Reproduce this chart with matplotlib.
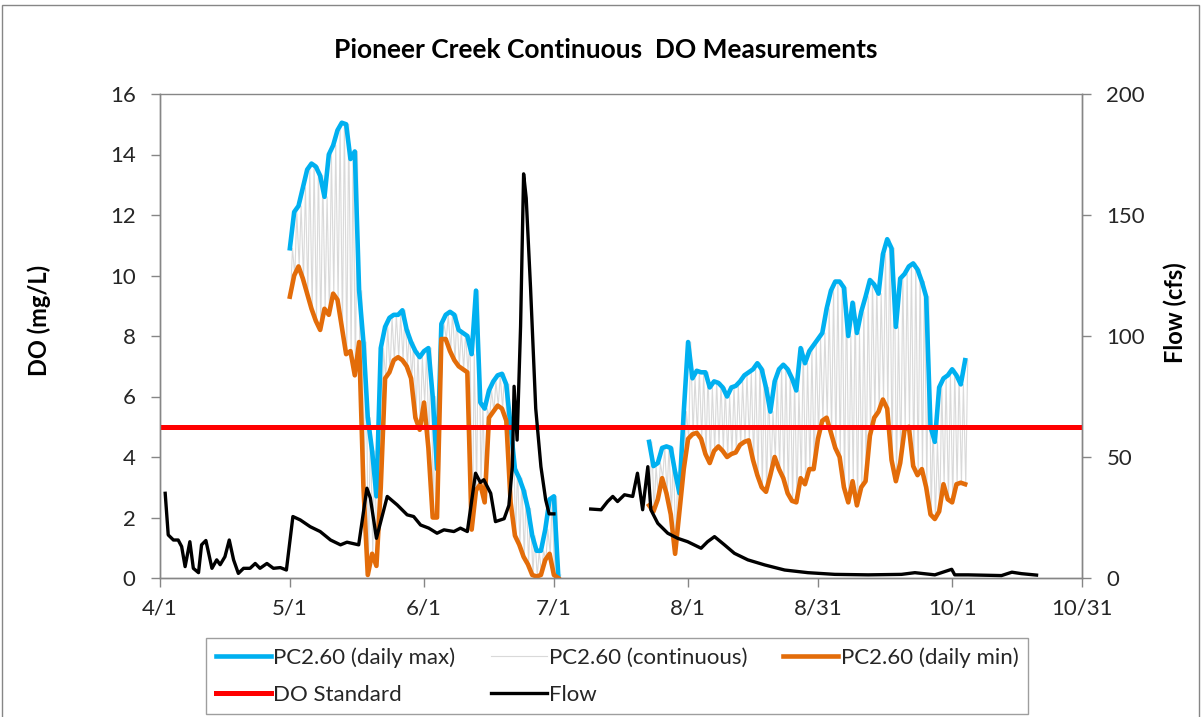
import numpy as np
import matplotlib.pyplot as plt
from matplotlib.patches import Rectangle

'''Pioneer Creek continuous DO with daily max/min and flow on a second axis.
x is days after 4/1'''

##########Data#################################
tick_days = [0, 30, 61, 91, 122, 152, 183, 213]
tick_labels = ["4/1", "5/1", "6/1", "7/1", "8/1", "8/31", "10/1", "10/31"]

#daily max / min DO (mg/L), first run starts 5/1 (day 30)
start1 = 30
max1 = [10.9, 12.1, 12.3, 12.9, 13.5, 13.7, 13.6, 13.3, 12.6, 14.0,
        14.3, 14.8, 15.05, 15.0, 13.85, 14.1, 9.5, 7.8, 5.3, 4.2,
        2.7, 7.6, 8.3, 8.6, 8.7, 8.7, 8.85, 8.2, 7.8, 7.5,
        7.3, 7.5, 7.6, 6.0, 3.6, 8.4, 8.7, 8.8, 8.7, 8.2,
        8.1, 8.0, 7.4, 9.5, 5.8, 5.6, 6.2, 6.5, 6.7, 6.75,
        6.4, 5.0, 3.6, 3.3, 2.9, 2.3, 1.4, 0.9, 0.9, 1.6,
        2.6, 2.7, 0.1]
min1 = [9.3, 10.0, 10.3, 9.9, 9.4, 8.9, 8.5, 8.2, 8.9, 8.7,
        9.4, 9.2, 8.3, 7.4, 7.5, 6.7, 7.8, 3.0, 0.1, 0.8,
        0.4, 3.0, 6.6, 6.8, 7.2, 7.3, 7.2, 7.0, 6.6, 5.3,
        4.9, 5.8, 4.3, 2.0, 2.0, 7.9, 7.9, 7.5, 7.2, 7.0,
        6.9, 6.8, 1.6, 2.9, 3.1, 2.5, 5.3, 5.5, 5.7, 5.6,
        5.2, 2.5, 1.4, 1.1, 0.7, 0.45, 0.1, 0.05, 0.1, 0.6,
        0.8, 0.1, 0.0]

#second run starts late July (day 113)
start2 = 113
max2 = [4.5, 3.7, 3.8, 4.3, 4.35, 4.3, 3.5, 2.8, 5.5, 7.8,
        6.6, 6.85, 6.8, 6.8, 6.3, 6.5, 6.45, 6.3, 6.0, 6.3,
        6.35, 6.5, 6.7, 6.8, 6.9, 7.1, 6.9, 6.3, 5.5, 6.5,
        6.9, 7.05, 6.9, 6.6, 6.2, 7.6, 7.1, 7.5, 7.7, 7.9,
        8.1, 8.9, 9.5, 9.8, 9.8, 9.6, 8.0, 9.1, 8.1, 8.8,
        9.3, 9.85, 9.7, 9.4, 10.7, 11.2, 10.9, 8.3, 9.9, 10.05,
        10.3, 10.4, 10.2, 9.8, 9.3, 5.0, 4.5, 6.3, 6.6, 6.7,
        6.9, 6.7, 6.4, 7.2]
min2 = [2.4, 2.2, 2.6, 3.3, 2.8, 2.1, 0.8, 2.2, 3.6, 4.6,
        4.75, 4.8, 4.6, 4.1, 3.8, 4.2, 4.35, 4.2, 4.0, 4.1,
        4.15, 4.4, 4.5, 4.55, 3.9, 3.4, 3.0, 2.85, 3.4, 4.0,
        3.6, 3.3, 2.8, 2.55, 2.5, 3.3, 3.1, 3.6, 3.6, 4.6,
        5.2, 5.3, 4.8, 4.3, 4.0, 3.0, 2.5, 3.2, 2.4, 3.0,
        3.2, 4.7, 5.3, 5.5, 5.9, 5.6, 3.9, 3.2, 3.8, 4.9,
        5.0, 3.7, 3.4, 3.6, 3.0, 2.1, 1.95, 2.2, 3.1, 2.6,
        2.5, 3.1, 3.15, 3.1]

do_standard = 5.0

#flow (cfs), nan = gap in record
flow_day = [1.2, 1.9, 3.1, 4.2, 5.0, 5.8, 6.9, 7.7, 8.9, 9.6,
            10.6, 12.0, 13.1, 13.9, 15.0, 16.0, 17.0, 18.1, 19.3, 20.8,
            22.0, 23.1, 24.7, 26.2, 27.8, 29.2, 30.7, 32.4, 34.7, 37.0,
            39.4, 41.7, 43.2, 45.9, 47.8, 48.6, 50.0, 52.5, 54.8, 57.1,
            58.6, 60.2, 62.1, 64.0, 65.6, 67.9, 69.4, 71.0, 72.9, 74.0,
            74.8, 76.4, 77.5, 79.5, 80.6, 81.4, 81.8, 82.5, 83.3, 84.0,
            84.6, 85.6, 86.8, 88.0, 89.1, 89.9, 91.0, 95.0,
            99.5, 101.9, 103.4, 104.6, 105.7, 107.3, 109.2, 110.3, 111.5, 112.7,
            113.4, 115.0, 117.3, 119.6, 121.9, 125.0, 126.5, 128.1, 130.4, 132.7,
            135.8, 139.7, 144.3, 149.7, 155.9, 163.6, 171.3, 174.4, 179.0, 182.9,
            183.6, 186.7, 194.4, 196.8, 199.0, 202.5]
flow_cfs = [35, 17.8, 15.7, 15.7, 13, 4.7, 15, 4, 2.2, 13.7,
            15.5, 4, 7.5, 5.5, 8.8, 15.7, 7.5, 1.9, 4, 4,
            6, 4, 6, 4, 4.3, 3.3, 25.4, 24, 21.2, 19.2,
            15.7, 13.7, 14.8, 13.7, 37.1, 33, 16.4, 33.7, 30.2, 26.1,
            25.4, 21.9, 20.6, 18.5, 19.9, 19.2, 20.6, 19.2, 43.3, 39.5,
            40.6, 35, 23.3, 24.5, 30, 46, 79.2, 57, 104, 167,
            157, 120, 70, 46, 32.3, 26.5, 26.5, np.nan,
            28.5, 28.2, 31.6, 33.7, 31.6, 34.4, 33.7, 43.3, 28.2, 46,
            28.2, 22.6, 18.5, 16.4, 15, 12.3, 15, 17.1, 13.7, 10.2,
            7.5, 5.4, 3.3, 2.2, 1.5, 1.3, 1.5, 2.2, 1.3, 3.6,
            1.3, 1.3, 1.0, 2.4, 1.8, 1.2]
#####################################################

def join(a, b):
    return np.concatenate([np.asarray(a, float), [np.nan], np.asarray(b, float)])

day1 = start1 + np.arange(len(max1))
day2 = start2 + np.arange(len(max2))
max_day = join(day1, day2)
max_do = join(max1, max2)
min_day = join(day1, day2)
min_do = join(min1, min2)

#continuous logger swings between the daily low (morning) and high (afternoon)
def swing(days, lo, hi):
    x = np.column_stack([days + 0.15, days + 0.6]).ravel()
    y = np.column_stack([lo, hi]).ravel()
    return x, y

cx1, cy1 = swing(day1, np.array(min1), np.array(max1))
cx2, cy2 = swing(day2, np.array(min2), np.array(max2))
cont_day = join(cx1, cx2)
cont_do = join(cy1, cy2)

plt.rcParams['font.family'] = ['Lato', 'DejaVu Sans']
axcol = "#868686"
txtcol = "#262626"

fig = plt.figure(figsize=(12.01, 7.17), dpi=100)
ax = fig.add_axes([160/1201, 1-578/717, 922/1201, 484/717])

ax.plot(cont_day, cont_do, color="#d9d9d9", lw=0.8, label="PC2.60 (continuous)", zorder=2)
ax.plot(max_day, max_do, color="#00b0f0", lw=3.3, label="PC2.60 (daily max)", zorder=3)
ax.plot(min_day, min_do, color="#e36c09", lw=3.3, label="PC2.60 (daily min)", zorder=3)
ax.plot([tick_days[0], tick_days[-1]], [do_standard, do_standard], color="#ff0000", lw=3.6, label="DO Standard", zorder=4)

ax.set_xlim(tick_days[0], tick_days[-1])
ax.set_ylim(0, 16)
ax.set_yticks(np.arange(0, 17, 2))
ax.set_xticks(tick_days)
ax.set_xticklabels(tick_labels)

ax2 = ax.twinx()
ax2.plot(flow_day, flow_cfs, color="black", lw=2.4, label="Flow", zorder=5)
ax2.set_ylim(0, 200)
ax2.set_yticks(np.arange(0, 201, 50))

for a in (ax, ax2):
    for s in a.spines.values():
        s.set_color(axcol)
        s.set_linewidth(1)
    a.tick_params(length=6.5, width=1, color=axcol, labelsize=16, labelcolor=txtcol)
ax.tick_params(axis="y", pad=11)
ax.tick_params(axis="x", pad=8)
ax2.tick_params(axis="y", pad=11)
ax2.spines["top"].set_visible(False)

#axis titles placed where Excel puts them
fig.text(39/1201, 1-320/717, "DO (mg/L)", rotation=90, ha="center", va="center",
         fontsize=17, fontweight="bold", color="black")
fig.text(1175/1201, 1-313/717, "Flow (cfs)", rotation=90, ha="center", va="center",
         fontsize=17, fontweight="bold", color="black")

fig.text(606/1201, 1-58/717, "Pioneer Creek Continuous  DO Measurements", ha="center", va="baseline",
         fontsize=19, fontweight="bold", color="black")

#legend - matplotlib fills columns first
h1, l1 = ax.get_legend_handles_labels()
h2, l2 = ax2.get_legend_handles_labels()
hd = dict(zip(l1 + l2, h1 + h2))
order = ["PC2.60 (daily max)", "DO Standard", "PC2.60 (continuous)", "Flow", "PC2.60 (daily min)"]
leg = fig.legend([hd[k] for k in order], order, ncol=3, loc="center",
                 bbox_to_anchor=(617/1201, 1-676/717), fontsize=16, frameon=True,
                 fancybox=False, edgecolor=axcol, handlelength=2.5, handletextpad=0.1,
                 columnspacing=1.6, borderpad=0.42, labelspacing=0.78, borderaxespad=0)
leg.get_frame().set_linewidth(1)
for t in leg.get_texts():
    t.set_color(txtcol)

#outer chart border
fig.patches.append(Rectangle((0.002, -0.01), 0.996, 1.003, transform=fig.transFigure,
                             fill=False, edgecolor=axcol, lw=1))

plt.savefig("out.png", dpi=100)
